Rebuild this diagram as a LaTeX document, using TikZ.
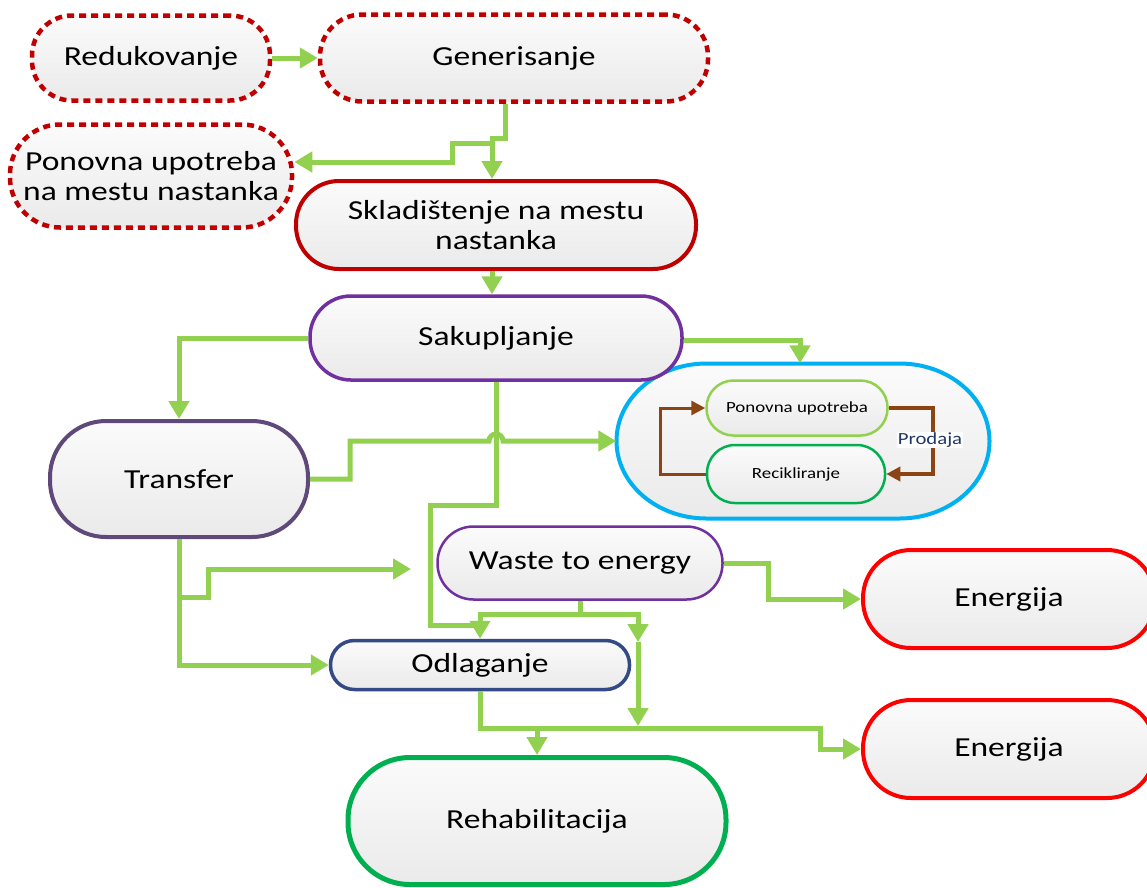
\documentclass[tikz,border=0pt]{standalone}
\usepackage{fontspec}
\setmainfont{Carlito}[FakeStretch=1.22]
\usetikzlibrary{arrows.meta,calc}

\definecolor{darkred}{HTML}{C00000}
\definecolor{brightred}{HTML}{FF0000}
\definecolor{violet}{HTML}{7030A0}
\definecolor{slateviolet}{HTML}{5F497A}
\definecolor{skyblue}{HTML}{00B0F0}
\definecolor{lightgreen}{HTML}{92D050}
\definecolor{midgreen}{HTML}{00B050}
\definecolor{navy}{HTML}{344A86}
\definecolor{navytext}{HTML}{1F3864}
\definecolor{brown}{HTML}{8B4513}
\definecolor{filltop}{HTML}{FBFBFB}
\definecolor{fillbottom}{HTML}{EAEAEA}

\tikzset{
  pill/.style={rectangle, top color=filltop, bottom color=fillbottom, align=center, inner sep=0pt},
  bigtext/.style={font=\fontsize{27.5}{30}\selectfont},
  smalltext/.style={font=\fontsize{15.5}{18}\selectfont},
  redash/.style={draw=darkred, line width=4.5pt, dash pattern=on 7pt off 5pt},
  flow/.style={draw=lightgreen, line width=5pt, line join=miter,
    -{Triangle[length=18pt,width=20pt]}},
  flowline/.style={draw=lightgreen, line width=5pt, line join=miter},
  loop/.style={draw=brown, -{Triangle[length=14pt,width=14pt]}},
}

\begin{document}
\begin{tikzpicture}[x=1pt,y=-1pt]
\useasboundingbox (0,0) rectangle (1147,887);

% recovery loop container: a terminator with elliptical ends
\path[top color=filltop, bottom color=fillbottom, draw=skyblue, line width=4pt]
  (706.5,363.5) -- (899.5,363.5)
  arc[start angle=-90, end angle=90, x radius=90, y radius=77.5]
  -- (706.5,518.5)
  arc[start angle=90, end angle=270, x radius=90, y radius=77.5] -- cycle;
\node[minimum width=373, minimum height=155, inner sep=0pt] (blue) at (803,441) {};

% --- process stages ---
\node[pill, redash, bigtext, minimum width=238, minimum height=85, rounded corners=40]
  (red) at (151,58) {Redukovanje};
\node[pill, redash, bigtext, minimum width=388, minimum height=87, rounded corners=42]
  (gen) at (514,58) {Generisanje};
\node[pill, redash, bigtext, minimum width=282, minimum height=103, rounded corners=50]
  (pon) at (151,176) {Ponovna upotreba\\na mestu nastanka};
\node[pill, draw=darkred, line width=4pt, bigtext, minimum width=400, minimum height=88, rounded corners=43]
  (skl) at (496,225) {Skladištenje na mestu\\nastanka};
\node[pill, draw=violet, line width=3.5pt, bigtext, minimum width=372, minimum height=84, rounded corners=41]
  (sak) at (496,338) {Sakupljanje};
\node[pill, draw=slateviolet, line width=4pt, bigtext, minimum width=258, minimum height=116, rounded corners=56]
  (tra) at (179,479) {Transfer};

\node[pill, draw=lightgreen, line width=2.5pt, smalltext, minimum width=181, minimum height=55, rounded corners=27]
  (pu) at (797,408) {Ponovna upotreba};
\node[pill, draw=midgreen, line width=2.5pt, smalltext, minimum width=178, minimum height=58, rounded corners=28]
  (rec) at (796,474) {Recikliranje};

\node[pill, draw=violet, line width=2.5pt, bigtext, minimum width=285, minimum height=73, rounded corners=36]
  (wte) at (580,563) {Waste to energy};
\node[pill, draw=brightred, line width=4pt, bigtext, minimum width=292, minimum height=98, rounded corners=48]
  (en1) at (1009,599) {Energija};
\node[pill, draw=brightred, line width=4pt, bigtext, minimum width=292, minimum height=98, rounded corners=48]
  (en2) at (1009,749) {Energija};
\node[pill, draw=navy, line width=3.5pt, bigtext, minimum width=299, minimum height=49, rounded corners=24]
  (odl) at (480,665) {Odlaganje};
\node[pill, draw=midgreen, line width=5pt, bigtext, minimum width=378, minimum height=127, rounded corners=62]
  (reh) at (537,821) {Rehabilitacija};

% --- flows ---
\draw[flow] (red.east) -- (gen.west);
\draw[flow] ([xshift=-9pt]gen.south) |- (492,138) -- ([xshift=-4pt]skl.north);
\coordinate (j1) at (492,143);
\draw[flow] (j1) -- (452,143) -- (452,162) -- (pon.east |- 0,162);
\draw[flow] ([xshift=-4pt]skl.south) -- ([xshift=-4pt]sak.north);
\draw[flow] (sak.west) -| (tra.north);
\draw[flow] ([yshift=-2pt]sak.east) -| ([xshift=-3pt]blue.north);
\draw[flow] (sak.south) -- (496,505) -- (430,505) -- (430,625) -- (480,625) -- (odl.north);
\draw[flow] (tra.east) -- (350,479) -- (350,441) -- (489,441)
  arc[start angle=180, end angle=360, radius=7] -- (blue.west);
\draw[flow] (tra.south) |- (odl.west);
\coordinate (j2) at (179,597);
\coordinate (wend) at (411,569);
\draw[flow] (j2) -- (208,597) -- (208,569) -- (wend);
\draw[flow] (wte.east) -- (768,563) -- (768,599) -- (en1.west);
\draw[flowline] (wte.south) |- (480,614) -- (480,625);
\coordinate (j3) at (638,642);
\draw[flow] (580,614) -| (j3);
\coordinate (j4) at (638,726);
\draw[flow] (j3) -- (j4);
\draw[flow] (odl.south) |- (820,728) |- (en2.west);
\coordinate (j5) at (537,728);
\draw[flow] (j5) -- (reh.north);

% --- sale loop between reuse and recycling ---
\draw[loop, line width=3pt] (rec.west) -- (660,474) -- (660,408) -- (pu.west);
\draw[loop, line width=4.5pt] (pu.east) -- (933,408) -- (933,474) -- (rec.east);
\node[fill=white, text=navytext, inner sep=1pt, font=\fontsize{17}{20}\selectfont]
  (prod) at (930,440) {Prodaja};
\end{tikzpicture}
\end{document}
